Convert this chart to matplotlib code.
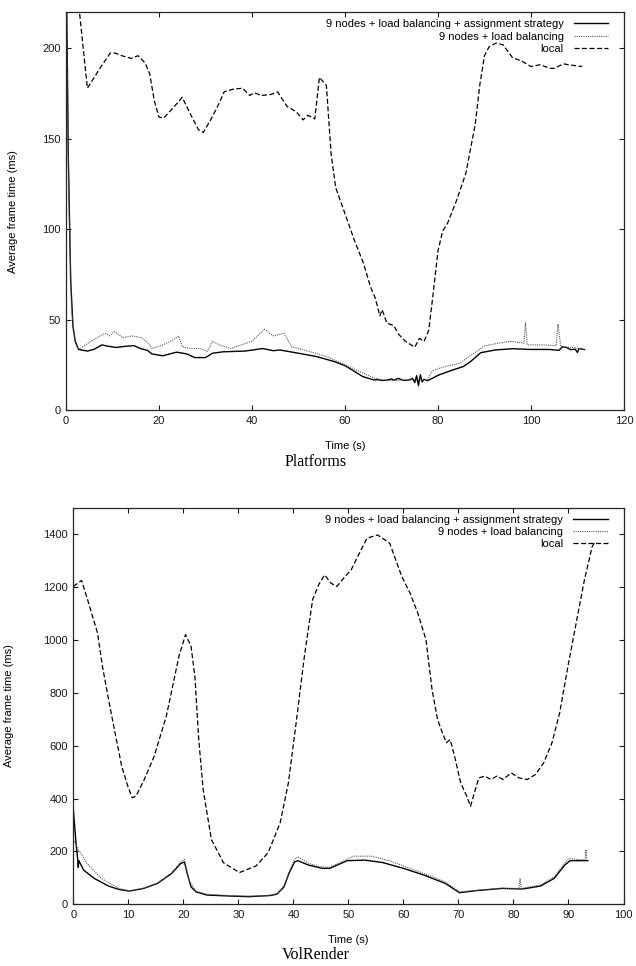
import numpy as np
import matplotlib
matplotlib.use("Agg")
import matplotlib.pyplot as plt

plt.rcParams['font.family'] = ['Liberation Sans', 'DejaVu Sans']

LABELS = ["9 nodes + load balancing + assignment strategy",
          "9 nodes + load balancing",
          "local"]

# Platforms (tempo em s, tempo de frame em ms)
plat_t_assign = [0.1, 0.5, 1.0, 1.5, 2.0, 2.7, 4.6, 6, 7.7, 9, 10.8, 13, 14.6, 16, 17.5, 18.5,
                 20.8, 23.8, 26, 27.7, 30, 31.5, 33.8, 38.5, 42.3, 44.6, 46, 50, 53.8, 57.7,
                 60, 61.5, 63.8, 66.2, 67, 68, 69.2, 70, 70.5, 71.5, 72.5, 73.8, 74.5, 75,
                 75.4, 75.8, 76.2, 76.6, 77, 77.7, 79, 80, 83, 85.4, 87, 89.2, 92.3, 96, 100,
                 104, 106, 106.8, 107.7, 108.5, 109.5, 110, 110.3, 111.5]
plat_v_assign = [235, 140, 72, 46, 38, 33.5, 32.6, 33.5, 36, 35.3, 34.6, 35.3, 35.6, 34, 33, 31,
                 30, 32, 31, 29, 29, 31.4, 32.2, 32.6, 34, 32.8, 33.2, 31.4, 29.6, 26.8,
                 24.5, 22.2, 18.5, 16.6, 16.8, 16.3, 16.6, 17.2, 16.5, 17.5, 16.4, 16.6, 17.5, 15.2,
                 19, 13.5, 19.5, 15.5, 17, 16.2, 17.8, 19.2, 22, 24, 26.8, 31.7, 33.2, 33.9, 33.5,
                 33.5, 33, 35, 34.5, 33.4, 33.6, 31.8, 34, 33.4]

plat_t_lb = [0.1, 0.6, 1.2, 2.0, 2.5, 3, 5.4, 7, 8.5, 9.3, 10.4, 12.3, 14.2, 16.2, 17.5, 18.5,
             20.8, 23, 24.2, 25, 27, 28.8, 30.4, 31.5, 33, 35.4, 37.7, 40, 42.7, 44.6, 46.9,
             48.5, 52.3, 56, 59.2, 63, 66.2, 69, 73.8, 77.7, 78.8, 81.5, 84.6, 87.7, 90, 92.3,
             95.4, 98.5, 98.8, 99.2, 103, 105.4, 105.8, 106.4, 109, 111.5]
plat_v_lb = [225, 120, 55, 37, 34, 34, 38, 40.5, 42.4, 41, 43.4, 40, 41, 40, 37.5, 34,
             36, 38.7, 41, 35, 34, 34, 32.4, 38, 36, 34, 36, 38, 44.7, 41, 42.4,
             35, 32.4, 29.6, 26, 21.4, 17.7, 16.2, 16.6, 16.6, 21.8, 24, 25.8, 31.4, 35.5, 36.6,
             38, 37, 48.4, 36, 36, 35.5, 47.6, 35, 34.6, 33.5]

plat_t_local = [0.5, 2.9, 4.6, 7.3, 9.5, 10.5, 12, 14, 15.5, 17, 18, 19, 20, 21, 23, 25, 26.5,
                28.5, 29.5, 31, 33, 34, 36, 38, 39.5, 40.5, 42, 44, 45.5, 47.5, 49.5, 51, 52,
                53.5, 54.5, 56, 57, 58, 60, 62, 64, 65.5, 66.5, 67.5, 68, 69, 70.5, 71.5, 73,
                75, 76, 77, 78, 78.8, 80, 81, 82, 84, 86, 88, 89, 90, 91, 92.5, 94, 96, 98,
                100, 102, 104, 105, 107, 108, 111]
plat_v_local = [277, 220, 178, 189, 197.4, 197.5, 196, 194.5, 196, 192, 186, 171, 162, 161.5,
                167, 173, 165, 155, 153.5, 160, 170, 176, 177.5, 178, 174, 175.5, 174, 174.5,
                176, 168, 165, 160.5, 163, 161, 184, 179.5, 142, 123, 108.6, 94, 81, 68, 62,
                52, 55.5, 48, 46.7, 42, 38, 34.7, 39.6, 38, 44, 61, 88, 99, 103, 116, 131, 158,
                180, 196, 201, 203, 202, 195, 193, 190, 191, 189, 189, 191.5, 191, 190]

# VolRender
vol_t_assign = [0, 0.5, 0.8, 0.9, 1.0, 1.1, 1.9, 3.8, 6.4, 8.3, 10.2, 12.8, 15.3, 17.9, 19.5,
                20.2, 20.7, 21.4, 22.3, 24.3, 28.7, 31.9, 35.7, 37, 38.3, 39.2, 40.2, 40.8,
                42.8, 45.3, 46.6, 49.8, 53, 56.2, 60, 63.8, 67.6, 70.2, 73.4, 77.9, 81.7,
                84.9, 87.4, 89.3, 90.3, 93.5]
vol_v_assign = [360, 230, 170, 140, 165, 161, 129, 98, 69, 56, 50, 60, 79, 117, 154,
                160, 117, 66, 47, 35, 31, 29, 33, 38, 66, 117, 160, 165,
                148, 136, 136, 165, 167, 158, 136, 110, 79, 44, 52, 60, 58,
                69, 98, 148, 165, 165]

vol_t_lb = [0, 1, 2.5, 5.1, 8.3, 10.2, 12.8, 15.3, 17.9, 19.5, 20.2, 21, 22.3, 24.3, 28.7,
            31.9, 35.7, 37, 38.3, 39.2, 40.2, 40.8, 42.8, 44.7, 46.6, 51, 54.2, 57.4, 63.8,
            67.6, 70.2, 73.4, 77.9, 81, 81.2, 81.4, 84.9, 87.4, 90, 92.5, 93.0, 93.2, 93.3]
vol_v_lb = [245, 205, 154, 98, 60, 51, 61, 80, 120, 160, 170, 92, 50, 38, 33,
            31, 34, 40, 70, 122, 170, 180, 155, 142, 140, 182, 182, 165, 116,
            85, 47, 53, 61, 60, 98, 60, 73, 104, 173, 168, 168, 207, 168]

vol_t_local = [0, 1.5, 2.6, 3.5, 4.4, 5.3, 6.3, 7.7, 8.8, 9.9, 10.7, 11.4, 12.9, 14.7, 16.9,
               19.2, 20.4, 21.4, 22.1, 22.8, 23.6, 25.1, 27.3, 30.2, 33.2, 35.4, 37.6, 39.1,
               40.5, 42, 43.5, 44.6, 45.7, 46.8, 47.9, 49.4, 50.5, 52, 53.4, 55.3, 57.5, 59.7,
               61.2, 62.6, 64.1, 65.2, 66.2, 67.1, 67.8, 68.5, 69.3, 70.4, 71.5, 72.2, 72.9,
               73.7, 74.8, 75.9, 77, 78.1, 79.6, 81, 82.5, 84, 85.5, 87, 88.4, 89.9, 91.4,
               92.9, 94.3, 94.7]
vol_v_local = [1202, 1225, 1152, 1089, 1026, 900, 787, 636, 522, 447, 403, 409, 472, 560, 711,
               938, 1020, 976, 862, 623, 434, 245, 157, 120, 145, 195, 308, 460,
               686, 938, 1152, 1209, 1246, 1215, 1202, 1240, 1265, 1328, 1385, 1397, 1366, 1240,
               1177, 1102, 1001, 812, 699, 648, 611, 623, 560, 460, 409, 371, 422,
               478, 485, 472, 485, 472, 497, 478, 472, 491, 535, 611, 724, 900, 1064,
               1227, 1353, 1366]

W, H = 636, 966
fig = plt.figure(figsize=(W / 100, H / 100), dpi=100)


def painel(rect, dados, xmax, ymax, yticks, xticks, titulo, ylab_x, titulo_y, xlab_y):
    l, t, r, b = rect
    ax = fig.add_axes([l / W, 1 - b / H, (r - l) / W, (b - t) / H])
    (ta, va), (tl, vl), (tc, vc) = dados
    ax.plot(ta, va, color='black', lw=1.0, label=LABELS[0])
    ax.plot(tl, vl, color='0.35', lw=0.8, ls=(0, (1, 1)), label=LABELS[1])
    ax.plot(tc, vc, color='black', lw=0.9, ls=(0, (4, 2)), label=LABELS[2])
    ax.set_xlim(0, xmax)
    ax.set_ylim(0, ymax)
    ax.set_xticks(xticks)
    ax.set_yticks(yticks)
    ax.tick_params(direction='in', length=3.6, width=0.8, top=True, right=True,
                   labelsize=8, pad=4, colors='0.1')
    for s in ax.spines.values():
        s.set_linewidth(0.9)
        s.set_color('0.15')
    ax.set_ylabel("Average frame time (ms)", fontsize=8)
    ax.yaxis.set_label_coords((ylab_x - l) / (r - l), 0.5)
    ax.set_xlabel("Time (s)", fontsize=8)
    ax.xaxis.set_label_coords(0.5, -(xlab_y - b) / (b - t))
    ax.legend(loc='upper right', bbox_to_anchor=(1 - 16 / (r - l), 1 - 7 / (b - t)),
              frameon=False, markerfirst=False, fontsize=8, handlelength=3.1,
              handletextpad=0.9, labelspacing=0.2, borderpad=0, borderaxespad=0)
    fig.text(316 / W, 1 - titulo_y / H, titulo, ha='center', va='center',
             fontsize=11.5, family='Liberation Serif')
    return ax


painel((66, 12.3, 624, 410),
       [(plat_t_assign, plat_v_assign), (plat_t_lb, plat_v_lb), (plat_t_local, plat_v_local)],
       120, 220, [0, 50, 100, 150, 200], range(0, 121, 20), "Platforms", 18, 462, 441)

painel((73.3, 507.7, 623.5, 904.3),
       [(vol_t_assign, vol_v_assign), (vol_t_lb, vol_v_lb), (vol_t_local, vol_v_local)],
       100, 1500, range(0, 1401, 200), range(0, 101, 10), "VolRender", 14, 955, 935)

fig.savefig("out.png", dpi=100)
